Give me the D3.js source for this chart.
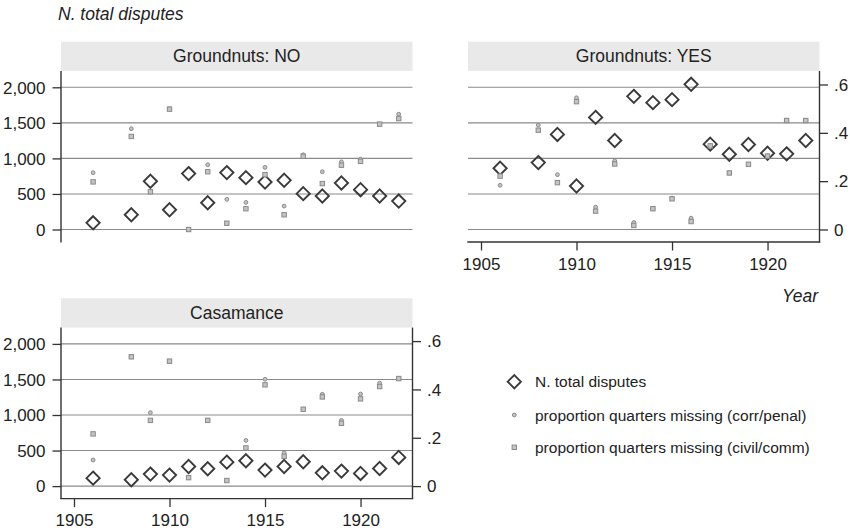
<!DOCTYPE html>
<html><head><meta charset="utf-8">
<script src="https://cdn.jsdelivr.net/npm/d3@7"></script>
<style>
body{margin:0;background:#fff;}
svg{display:block;}
text{font-family:"Liberation Sans Narrow","Arial Narrow","Liberation Sans",Arial,sans-serif;fill:#222;}
.reg{font-family:"Liberation Sans",Arial,sans-serif;}
</style></head>
<body>
<svg id="chart" width="850" height="532"></svg>
<script>
const years = [1906,1908,1909,1910,1911,1912,1913,1914,1915,1916,1917,1918,1919,1920,1921,1922];
const panelTitles = ["Groundnuts: NO","Groundnuts: YES","Casamance"];
const disputesNO  = [94,207,678,278,786,376,800,729,668,692,504,471,654,560,471,400];
const penalNO     = [.235,.417,.158,.50,0,.268,.125,.112,.257,.097,.309,.239,.280,.291,.436,.477];
const civilNO     = [.197,.385,.156,.498,0,.239,.026,.086,.227,.061,.303,.190,.266,.282,.436,.459];
const disputesYES = [861,941,1337,612,1577,1252,1873,1784,1826,2042,1200,1059,1195,1073,1064,1252];
const penalYES    = [.183,.432,.227,.545,.093,.284,.029,.086,.13,.047,.346,.234,.270,.304,.451,.451];
const civilYES    = [.221,.411,.194,.529,.076,.271,.017,.086,.127,.033,.346,.234,.270,.304,.451,.451];
const disputesCAS = [112,89,169,155,276,244,337,356,225,276,342,187,211,178,248,403];
const penalCAS    = [.108,.535,.304,.517,.035,.272,.023,.189,.442,.138,.318,.380,.272,.381,.426,.445];
const civilCAS    = [.216,.535,.272,.517,.035,.272,.023,.158,.419,.123,.318,.369,.260,.361,.412,.445];
const leftTicks  = [0,500,1000,1500,2000];
const rightTicks = [0,.2,.4,.6];
const xTicks = [1905,1910,1915,1920];
const legendLabels = ["N. total disputes","proportion quarters missing (corr/penal)","proportion quarters missing (civil/comm)"];
const yTitle = "N. total disputes", xTitle = "Year";

const svg = d3.select("#chart");
const panels = [
  {title:panelTitles[0], d:disputesNO,  p:penalNO,  c:civilNO,  x0:61,  top:41.7,  left:true,  right:false, bottom:false},
  {title:panelTitles[1], d:disputesYES, p:penalYES, c:civilYES, x0:468, top:41.7,  left:false, right:true,  bottom:true},
  {title:panelTitles[2], d:disputesCAS, p:penalCAS, c:civilCAS, x0:61,  top:298.3, left:true,  right:true,  bottom:true}
];
const W = 351.5, HH = 29.3, PH = 171;
function diamondPath(r){return `M0,${-r}L${r},0L0,${r}L${-r},0Z`;}

panels.forEach(pn=>{
  const g = svg.append("g");
  const ptop = pn.top + HH, pbot = ptop + PH;
  const y0 = ptop + 158.5;
  const x = d3.scaleLinear().domain([1904.32,1922.72]).range([pn.x0, pn.x0+W]);
  const yl = d3.scaleLinear().domain([0,2000]).range([y0, y0-142.2]);
  const yr = d3.scaleLinear().domain([0,.6]).range([y0, y0-145]);
  // header
  g.append("rect").attr("x",pn.x0).attr("y",pn.top).attr("width",W).attr("height",HH).attr("fill","#e9e9e9");
  g.append("text").attr("class","reg").attr("x",pn.x0+W/2).attr("y",pn.top+HH/2+6).attr("text-anchor","middle")
    .attr("font-size",17.5).text(pn.title);
  // gridlines
  g.selectAll(".grid").data(leftTicks).join("line")
    .attr("x1",pn.x0).attr("x2",pn.x0+W).attr("y1",d=>yl(d)).attr("y2",d=>yl(d))
    .attr("stroke","#8a8a8a").attr("stroke-width",1.1);
  // left axis
  if(pn.left){
    const ax = d3.axisLeft(yl).tickValues(leftTicks).tickSize(8.5).tickPadding(7).tickFormat(d3.format(","));
    const a = g.append("g").attr("transform",`translate(${pn.x0},0)`).call(ax);
    a.select(".domain").remove();
    a.append("line").attr("x1",0).attr("x2",0).attr("y1",ptop).attr("y2",pbot+0.5).attr("stroke","#333").attr("stroke-width",1.4);
    a.selectAll(".tick line").attr("stroke","#333").attr("stroke-width",1.3);
    a.selectAll(".tick text").attr("font-size",17).attr("fill","#222").attr("font-family",null).attr("dy","0.34em");
  }
  if(pn.right){
    const ax = d3.axisRight(yr).tickValues(rightTicks).tickSize(8.5).tickPadding(6)
      .tickFormat(d=>d===0?"0":d3.format(".1f")(d).replace(/^0/,""));
    const a = g.append("g").attr("transform",`translate(${pn.x0+W},0)`).call(ax);
    a.select(".domain").remove();
    a.append("line").attr("x1",0).attr("x2",0).attr("y1",ptop).attr("y2",pbot+0.5).attr("stroke","#333").attr("stroke-width",1.4);
    a.selectAll(".tick line").attr("stroke","#333").attr("stroke-width",1.3);
    a.selectAll(".tick text").attr("font-size",17).attr("fill","#222").attr("font-family",null).attr("dy","0.34em");
  }
  if(pn.bottom){
    const ax = d3.axisBottom(x).tickValues(xTicks).tickSize(8.5).tickPadding(7).tickFormat(d3.format("d"));
    const a = g.append("g").attr("transform",`translate(0,${pbot})`).call(ax);
    a.select(".domain").remove();
    a.append("line").attr("x1",pn.x0-0.7).attr("x2",pn.x0+W+0.7).attr("y1",0).attr("y2",0).attr("stroke","#333").attr("stroke-width",1.4);
    a.selectAll(".tick line").attr("stroke","#333").attr("stroke-width",1.3);
    a.selectAll(".tick text").attr("font-size",17).attr("fill","#222").attr("font-family",null);
  }
  // markers
  g.selectAll(".dia").data(years.map((yr_,i)=>({yr:yr_,v:pn.d[i]}))).join("path")
    .attr("d",diamondPath(6.6)).attr("transform",d=>`translate(${x(d.yr)},${yl(d.v)})`)
    .attr("fill","none").attr("stroke","#3a3a3a").attr("stroke-width",1.9);
  g.selectAll(".pen").data(years.map((yr_,i)=>({yr:yr_,v:pn.p[i]}))).join("circle")
    .attr("cx",d=>x(d.yr)).attr("cy",d=>yr(d.v)).attr("r",1.9)
    .attr("fill","#c4c4c4").attr("stroke","#8a8a8a").attr("stroke-width",1);
  g.selectAll(".civ").data(years.map((yr_,i)=>({yr:yr_,v:pn.c[i]}))).join("rect")
    .attr("x",d=>x(d.yr)-2.2).attr("y",d=>yr(d.v)-2.2).attr("width",4.4).attr("height",4.4)
    .attr("fill","#c4c4c4").attr("stroke","#8a8a8a").attr("stroke-width",1);
});

// titles
svg.append("text").attr("class","reg").attr("x",58).attr("y",20).attr("font-size",17.5).attr("font-style","italic").text(yTitle);
svg.append("text").attr("class","reg").attr("x",818).attr("y",302).attr("text-anchor","end").attr("font-size",17.5).attr("font-style","italic").text(xTitle);

// legend
const lg = svg.append("g");
const ly = [381.7,415,447.3];
lg.append("path").attr("d",diamondPath(6.6)).attr("transform",`translate(514.3,${ly[0]})`).attr("fill","none").attr("stroke","#3a3a3a").attr("stroke-width",1.9);
lg.append("circle").attr("cx",514.3).attr("cy",ly[1]).attr("r",1.9).attr("fill","#c4c4c4").attr("stroke","#8a8a8a");
lg.append("rect").attr("x",512.1).attr("y",ly[2]-2.2).attr("width",4.4).attr("height",4.4).attr("fill","#c4c4c4").attr("stroke","#8a8a8a");
lg.selectAll(".lt").data(legendLabels).join("text").attr("class","reg")
  .attr("x",535).attr("y",(d,i)=>ly[i]+5.5).attr("font-size",15.5).text(d=>d);
</script>
</body></html>
